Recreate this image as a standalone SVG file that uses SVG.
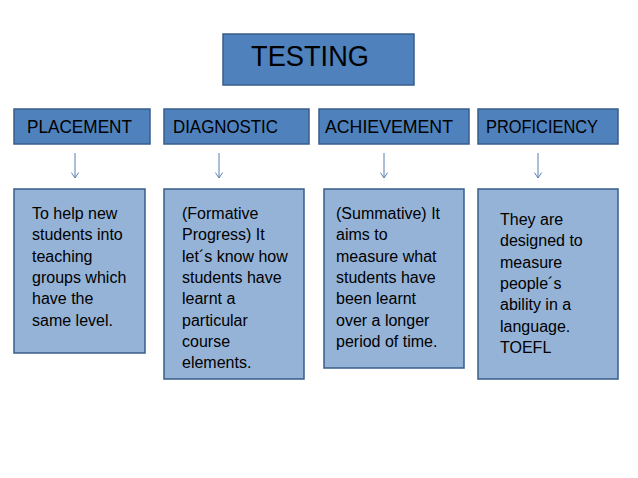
<svg xmlns="http://www.w3.org/2000/svg" width="638" height="478" viewBox="0 0 638 478">
<style>
.hdr{fill:#4F81BD;stroke:#385D8A;stroke-width:1.5}
.bx{fill:#95B3D7;stroke:#385D8A;stroke-width:1.5}
.t{font-family:"Liberation Sans",Arial,sans-serif;fill:#000}
.h{font-size:18px}
.b{font-size:16px}
.c{stroke:#5B7DB0;stroke-width:1;fill:none}
</style>
<defs>
<marker id="ah" viewBox="0 0 10 10" refX="9" refY="5" markerWidth="9" markerHeight="9" orient="auto" markerUnits="userSpaceOnUse">
<path d="M3,1 L9,5 L3,9" fill="none" stroke="#5B7DB0" stroke-width="1.1"/>
</marker>
</defs>
<rect width="638" height="478" fill="#fff"/>
<g id="testing"><rect class="hdr" x="223" y="34" width="191" height="51"/><text class="t" x="251" y="66" font-size="30" textLength="118" lengthAdjust="spacingAndGlyphs">TESTING</text></g>
<g id="placement"><rect class="hdr" x="14" y="109" width="136" height="35"/><text class="t h" x="27" y="133" textLength="105" lengthAdjust="spacingAndGlyphs">PLACEMENT</text></g>
<g id="diagnostic"><rect class="hdr" x="164" y="109" width="145" height="35"/><text class="t h" x="173" y="133" textLength="105" lengthAdjust="spacingAndGlyphs">DIAGNOSTIC</text></g>
<g id="achievement"><rect class="hdr" x="319" y="109" width="150" height="35"/><text class="t h" x="325" y="133" textLength="128" lengthAdjust="spacingAndGlyphs">ACHIEVEMENT</text></g>
<g id="proficiency"><rect class="hdr" x="478" y="109" width="140" height="35"/><text class="t h" x="486" y="133" textLength="112" lengthAdjust="spacingAndGlyphs">PROFICIENCY</text></g>
<g id="connectors">
<line class="c" x1="75" y1="153" x2="75" y2="178" marker-end="url(#ah)"/>
<line class="c" x1="219" y1="153" x2="219" y2="178" marker-end="url(#ah)"/>
<line class="c" x1="384" y1="153" x2="384" y2="178" marker-end="url(#ah)"/>
<line class="c" x1="538" y1="153" x2="538" y2="178" marker-end="url(#ah)"/>
</g>
<g id="placement-desc"><rect class="bx" x="14" y="189" width="131" height="164"/>
<text class="t b"><tspan x="32" y="219">To help new</tspan><tspan x="32" y="240.3">students into</tspan><tspan x="32" y="261.6">teaching</tspan><tspan x="32" y="282.9">groups which</tspan><tspan x="32" y="304.2">have the</tspan><tspan x="32" y="325.5">same level.</tspan></text></g>
<g id="diagnostic-desc"><rect class="bx" x="164" y="189" width="140" height="190"/>
<text class="t b"><tspan x="182" y="219">(Formative</tspan><tspan x="182" y="240.3">Progress) It</tspan><tspan x="182" y="261.6">let´s know how</tspan><tspan x="182" y="282.9">students have</tspan><tspan x="182" y="304.2">learnt a</tspan><tspan x="182" y="325.5">particular</tspan><tspan x="182" y="346.8">course</tspan><tspan x="182" y="368.1">elements.</tspan></text></g>
<g id="achievement-desc"><rect class="bx" x="324" y="189" width="140" height="179"/>
<text class="t b"><tspan x="336" y="219">(Summative) It</tspan><tspan x="336" y="240.3">aims to</tspan><tspan x="336" y="261.6">measure what</tspan><tspan x="336" y="282.9">students have</tspan><tspan x="336" y="304.2">been learnt</tspan><tspan x="336" y="325.5">over a longer</tspan><tspan x="336" y="346.8">period of time.</tspan></text></g>
<g id="proficiency-desc"><rect class="bx" x="478" y="189" width="140" height="190"/>
<text class="t b"><tspan x="500" y="225">They are</tspan><tspan x="500" y="246.3">designed to</tspan><tspan x="500" y="267.6">measure</tspan><tspan x="500" y="288.9">people´s</tspan><tspan x="500" y="310.2">ability in a</tspan><tspan x="500" y="331.5">language.</tspan><tspan x="500" y="352.8">TOEFL</tspan></text></g>
</svg>
